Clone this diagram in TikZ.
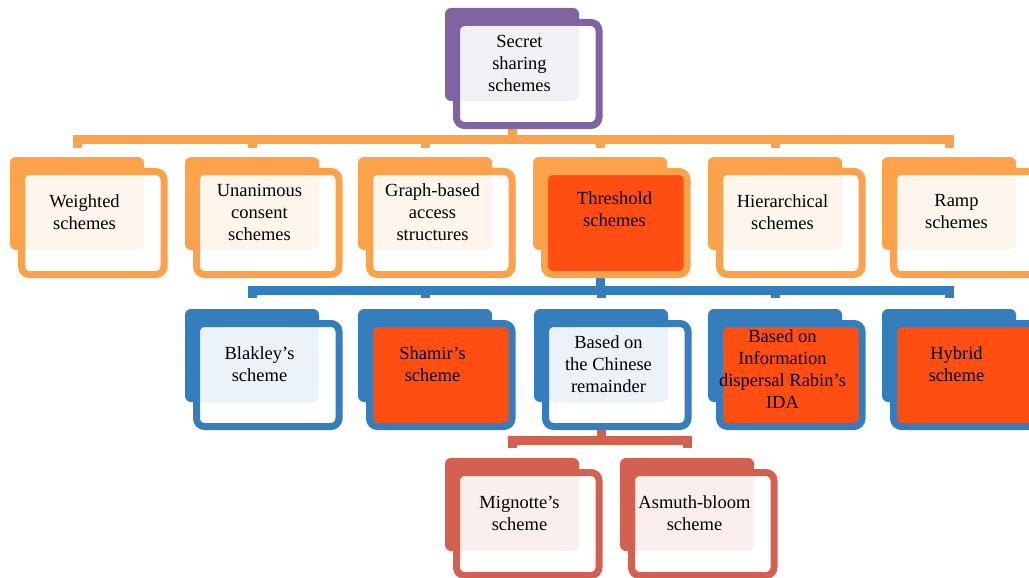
\documentclass[tikz,border=0pt]{standalone}
\usepackage{fontspec}
\setmainfont{Liberation Serif}
\usetikzlibrary{backgrounds}

\definecolor{sspurple}{RGB}{128,100,162}
\definecolor{ssorange}{RGB}{252,162,74}
\definecolor{ssblue}{RGB}{52,126,190}
\definecolor{ssred}{RGB}{212,97,79}
\definecolor{sshot}{RGB}{255,78,18}

\tikzset{
  backbox/.style={rectangle, rounded corners=6pt, fill=#1, inner sep=0pt,
    minimum width=134pt, minimum height=93pt},
  frontbox/.style={rectangle, rounded corners=8pt, draw=#1, line width=7pt,
    inner sep=0pt, minimum width=142.5pt, minimum height=103pt},
  plain/.style={fill=white, fill opacity=0.9},
  hot/.style={fill=sshot},
  boxtext/.style={align=center, inner sep=0pt, font=\fontsize{18.5}{22}\selectfont},
  bar/.style={draw=#1, line width=9pt, line join=miter}
}

% one scheme box: [text shift] name, x, y of the back box, colour, front fill, text
\newcommand{\skbox}[7][]{%
  \node[backbox=#5] (#2-b) at (#3+67,#4+46.5) {};
  \node[frontbox=#5, #6] (#2-f) at (#3+82.75,#4+66) {};
  \node[boxtext, #1] (#2) at (#3+74.5,#4+55) {#7};
}

\begin{document}
\begin{tikzpicture}[x=1pt,y=-1pt]
  \useasboundingbox (0,0) rectangle (1029,578);

  % root
  \skbox{root}{445}{8}{sspurple}{plain}{Secret\\sharing\\schemes}

  % first level
  \skbox{wgt}{10}{157}{ssorange}{plain}{Weighted\\schemes}
  \skbox{una}{185}{157}{ssorange}{plain}{Unanimous\\consent\\schemes}
  \skbox{gra}{358}{157}{ssorange}{plain}{Graph-based\\access\\structures}
  \skbox[xshift=7pt,yshift=3pt]{thr}{533}{157}{ssorange}{hot}{Threshold\\schemes}
  \skbox{hie}{708}{157}{ssorange}{plain}{Hierarchical\\schemes}
  \skbox{ram}{882}{157}{ssorange}{plain}{Ramp\\schemes}

  % threshold schemes
  \skbox{bla}{185}{309}{ssblue}{plain}{Blakley’s\\scheme}
  \skbox{sha}{358}{309}{ssblue}{hot}{Shamir’s\\scheme}
  \skbox{chi}{534}{309}{ssblue}{plain}{Based on\\the Chinese\\remainder}
  \skbox[yshift=-5pt]{rab}{708}{309}{ssblue}{hot}{Based on\\Information\\dispersal Rabin’s\\IDA}
  \skbox{hyb}{882}{309}{ssblue}{hot}{Hybrid\\scheme}

  % chinese remainder schemes
  \skbox{mig}{445}{458}{ssred}{plain}{Mignotte’s\\scheme}
  \skbox{asm}{620}{458}{ssred}{plain}{Asmuth-bloom\\scheme}

  % the brackets
  \begin{scope}[on background layer]
    \coordinate (obar) at (0,139);
    \coordinate (bbar) at (0,290);
    \coordinate (rbar) at (0,440);

    \draw[bar=ssorange] (root-b.south |- root-f.south) -- (root-b.south |- obar);
    \draw[bar=ssorange] ([yshift=9pt]wgt-b.north) -- (wgt-b.north |- obar)
      -- (ram-b.north |- obar) -- ([yshift=9pt]ram-b.north);
    \foreach \n in {una,gra,thr,hie}
      \draw[bar=ssorange] (\n-b.north |- obar) -- ([yshift=9pt]\n-b.north);

    \draw[bar=ssblue] (thr-b.south) -- (thr-b.south |- bbar);
    \draw[bar=ssblue] ([yshift=11pt]bla-b.north) -- (bla-b.north |- bbar)
      -- (hyb-b.north |- bbar) -- ([yshift=11pt]hyb-b.north);
    \foreach \n in {sha,chi,rab}
      \draw[bar=ssblue] (\n-b.north |- bbar) -- ([yshift=11pt]\n-b.north);

    \draw[bar=ssred] (chi-b.south |- chi-f.south) -- (chi-b.south |- rbar);
    \draw[bar=ssred] ([yshift=10pt]mig-b.north) -- (mig-b.north |- rbar)
      -- (asm-b.north |- rbar) -- ([yshift=10pt]asm-b.north);
  \end{scope}
\end{tikzpicture}
\end{document}
